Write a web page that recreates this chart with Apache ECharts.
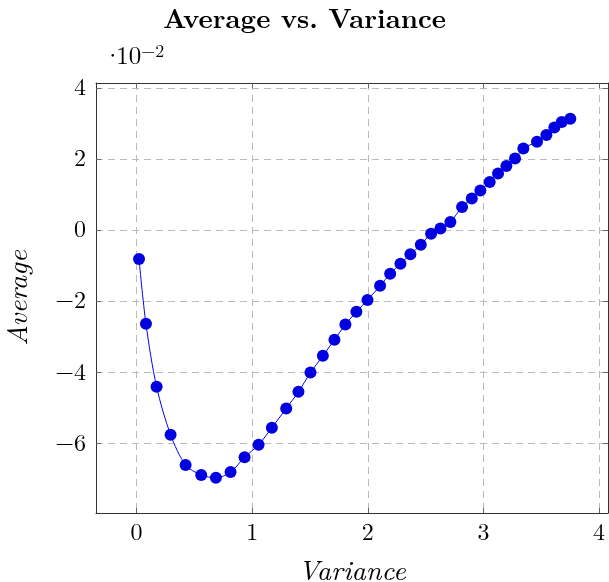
<!DOCTYPE html>
<html>
<head>
<meta charset="utf-8">
<script src="https://cdn.jsdelivr.net/npm/echarts@6/dist/echarts.min.js"></script>
<style>html,body{margin:0;padding:0;background:#fff;}#c{width:609px;height:582px;}</style>
</head>
<body>
<div id="c"></div>
<script>
const variance = [0.021,0.081,0.173,0.294,0.424,0.559,0.686,0.813,0.934,1.055,1.170,1.294,1.400,1.504,1.611,1.711,1.806,1.901,1.997,2.106,2.193,2.282,2.368,2.458,2.547,2.628,2.714,2.815,2.899,2.973,3.054,3.126,3.198,3.273,3.345,3.463,3.544,3.613,3.677,3.751];
const average = [-0.00816,-0.0264,-0.0441,-0.0576,-0.0661,-0.0689,-0.0697,-0.0681,-0.0639,-0.0604,-0.0556,-0.0502,-0.0455,-0.0401,-0.0354,-0.0309,-0.0266,-0.0230,-0.0197,-0.0157,-0.0123,-0.00948,-0.00685,-0.00414,-0.00104,0.00045,0.00225,0.00647,0.00889,0.01114,0.0135,0.0159,0.0180,0.02014,0.02295,0.0248,0.0267,0.0288,0.0304,0.0313];
const xTicks = [0,1,2,3,4];
const yTicks = [-0.06,-0.04,-0.02,0,0.02,0.04];
const xRange = [-0.351, 4.077];
const yRange = [-0.0796, 0.04135];

const serif = '"Latin Modern Roman","CMU Serif","DejaVu Serif","Liberation Serif",serif';
const lab = {fontFamily: serif, fontSize: 24, color: '#000'};
const fmtY = v => { const n = Math.round(v*100); return n < 0 ? '\u2212' + (-n) : String(n); };
const grid = {lineStyle: {color: '#bbb', type: [7, 5], width: 1}};
const tick = {inside: true, length: 5, lineStyle: {color: '#666', width: 1}};
const axLine = {show: true, onZero: false, lineStyle: {color: '#333', width: 1}};

const chart = echarts.init(document.getElementById('c'));
const data = variance.map((x, i) => [x, average[i]]);
chart.setOption({
  animation: false,
  title: {text: 'Average vs. Variance', left: 'center', top: 1,
    textStyle: {fontFamily: serif, fontSize: 27, fontWeight: 'bold', color: '#000'}},
  graphic: [
    {type: 'text', left: 103, top: 42, style: {text: '{d|\u00b7}{a|10}{b|\u22122}', rich: {
      d: {fontFamily: serif, fontSize: 25, fill: '#000', width: 7, align: 'center'},
      a: {fontFamily: serif, fontSize: 25, fill: '#000'},
      b: {fontFamily: serif, fontSize: 18, fill: '#000', verticalAlign: 'top', padding: [0,0,10,0]}}}}
  ],
  grid: {left: 96, top: 83, width: 512, height: 430, containLabel: false, outerBoundsMode: 'none', show: false},
  xAxis: [{
    type: 'value', min: xRange[0], max: xRange[1], position: 'bottom',
    name: 'Variance', nameLocation: 'middle', nameGap: 44,
    nameTextStyle: {fontFamily: serif, fontSize: 28, fontStyle: 'italic', color: '#000'},
    axisLine: axLine,
    axisTick: Object.assign({customValues: xTicks}, tick),
    axisLabel: Object.assign({customValues: xTicks, margin: 8, formatter: v => String(Math.round(v))}, lab),
    splitLine: Object.assign({show: true}, grid)
  }, {
    type: 'value', min: xRange[0], max: xRange[1], position: 'top',
    axisLine: axLine,
    axisTick: Object.assign({customValues: xTicks}, tick),
    axisLabel: {show: false}, splitLine: {show: false}
  }],
  yAxis: [{
    type: 'value', min: yRange[0], max: yRange[1], position: 'left',
    name: 'Average', nameLocation: 'middle', nameGap: 64, nameRotate: 90,
    nameTextStyle: {fontFamily: serif, fontSize: 28, fontStyle: 'italic', color: '#000'},
    axisLine: axLine,
    axisTick: Object.assign({customValues: yTicks}, tick),
    axisLabel: Object.assign({customValues: yTicks, margin: 10, formatter: fmtY}, lab),
    splitLine: Object.assign({show: true}, grid)
  }, {
    type: 'value', min: yRange[0], max: yRange[1], position: 'right',
    axisLine: axLine,
    axisTick: Object.assign({customValues: yTicks}, tick),
    axisLabel: {show: false}, splitLine: {show: false}
  }],
  series: [{
    type: 'line', data: data, xAxisIndex: 0, yAxisIndex: 0,
    smooth: 0.3, symbol: 'circle', symbolSize: 12,
    lineStyle: {color: '#0000ff', width: 1},
    itemStyle: {color: '#0000e0', borderColor: '#0000e0', borderWidth: 0}
  }]
});
</script>
</body>
</html>
